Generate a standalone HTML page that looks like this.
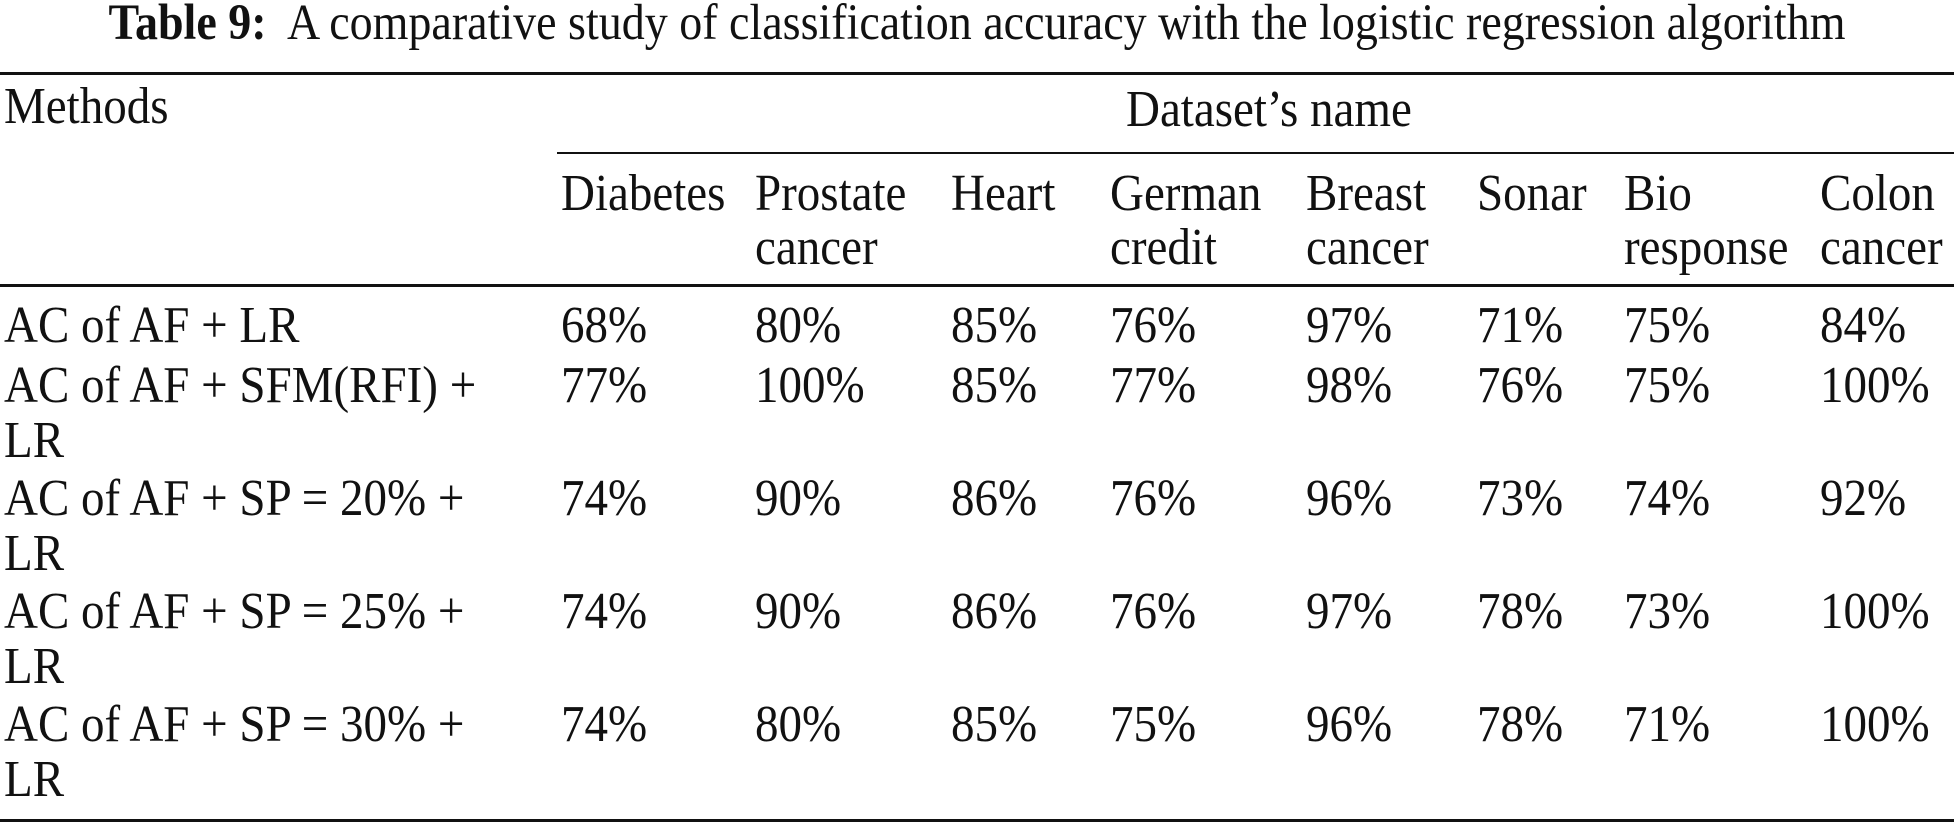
<!DOCTYPE html>
<html><head><meta charset="utf-8"><style>
html,body{margin:0;padding:0;background:#fff;}
#t{position:relative;width:1954px;height:825px;overflow:hidden;font-family:"Liberation Serif",serif;font-size:47px;color:#111;}
#t div.tx{position:absolute;line-height:47px;white-space:nowrap;transform:scaleY(1.1);transform-origin:0 80%;}
.rule{position:absolute;background:#111;height:3px;}
</style></head><body>
<div id="t">
<div class="tx" style="left:0;width:1954px;text-align:center;top:0px;font-size:46px;"><b>Table 9:</b>&nbsp; A comparative study of classification accuracy with the logistic regression algorithm</div>
<div class="rule" style="left:0;right:0;top:72px;"></div>
<div class="rule" style="left:557px;right:0;top:152px;height:2px;"></div>
<div class="rule" style="left:0;right:0;top:284px;"></div>
<div class="rule" style="left:0;right:0;top:819px;"></div>
<div class="tx" style="left:4px;top:85px;">Methods</div>
<div class="tx" style="left:1126px;top:88px;">Dataset’s name</div>
<div id="body"></div>
</div>
<script>
const cols=[561,755,951,1110,1306,1477,1624,1820];
const heads=[["Diabetes",""],["Prostate","cancer"],["Heart",""],["German","credit"],["Breast","cancer"],["Sonar",""],["Bio","response"],["Colon","cancer"]];
const methods=[["AC of AF + LR"],["AC of AF + SFM(RFI) +","LR"],["AC of AF + SP = 20% +","LR"],["AC of AF + SP = 25% +","LR"],["AC of AF + SP = 30% +","LR"]];
const values=[[68,80,85,76,97,71,75,84],[77,100,85,77,98,76,75,100],[74,90,86,76,96,73,74,92],[74,90,86,76,97,78,73,100],[74,80,85,75,96,78,71,100]];
const rowBase=[343,403,516,629,742];
const t=document.getElementById('t');
function add(txt,x,base,name){
const d=document.createElement('div');
d.className='tx';


d.style.left=x+'px';d.style.top=(base-39)+'px';
d.textContent=txt;t.appendChild(d);}
heads.forEach((h,i)=>{add(h[0],cols[i],211,'column-header');if(h[1])add(h[1],cols[i],265,'column-header');});
methods.forEach((m,r)=>{add(m[0],4,rowBase[r],'method-label');if(m[1])add(m[1],4,rowBase[r]+55,'method-label');
values[r].forEach((v,c)=>add(v+'%',cols[c],rowBase[r],'accuracy-cell'));});
</script>
</body></html>
